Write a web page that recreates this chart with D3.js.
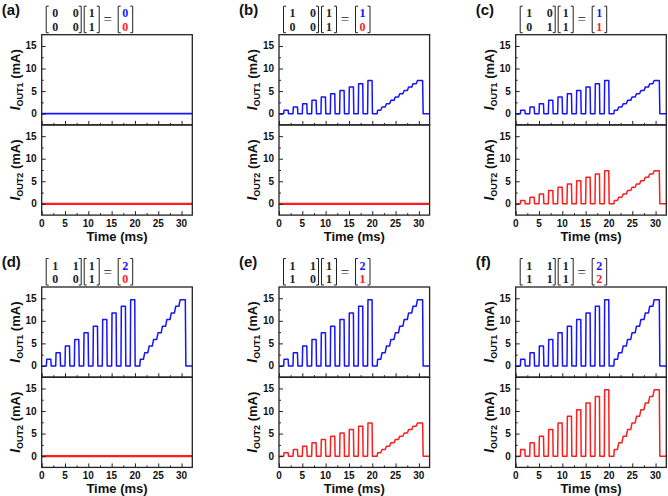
<!DOCTYPE html>
<html><head><meta charset="utf-8">
<script src="https://cdn.jsdelivr.net/npm/d3@7"></script>
<style>
html,body{margin:0;padding:0;background:#fff;}
svg{display:block;}
</style></head>
<body>
<svg id="chart" width="668" height="496"></svg>
<script>
// ---------- data ----------
const panelLabels = ["(a)", "(b)", "(c)", "(d)", "(e)", "(f)"];
const matrices = [
  [[0,0],[0,0]],
  [[1,0],[0,0]],
  [[1,0],[0,1]],
  [[1,1],[0,0]],
  [[1,1],[1,0]],
  [[1,1],[1,1]]
];
const inputVector = [1, 1];
const out1Values = [0, 1, 1, 2, 2, 2];
const out2Values = [0, 0, 1, 0, 1, 2];

const pulseStart = [1, 3, 5, 7, 9, 11, 13, 15, 17, 19];
const pulseEnd   = [2, 4, 6, 8, 10, 12, 14, 16, 18, 20];
const stepStart  = [21.1, 22.05, 23.0, 23.95, 24.9, 25.85, 26.8, 27.75, 28.7, 29.65];
const stepEnd = 30.8;
const levelsByOutput = {
  1: [0.73, 1.47, 2.2, 2.94, 3.67, 4.41, 5.14, 5.88, 6.61, 7.35],
  2: [1.47, 2.94, 4.41, 5.88, 7.35, 8.82, 10.29, 11.76, 13.23, 14.7]
};
const xTicks = [0, 5, 10, 15, 20, 25, 30];
const yTicks = [0, 5, 10, 15];
const xMinor = [2.5, 7.5, 12.5, 17.5, 22.5, 27.5];
const yMinor = [2.5, 7.5, 12.5];
const xDomain = [0, 32.3];
const yDomain = [-2.5, 17.5];

// ---------- layout ----------
const colX = [41.7, 279, 515.7];
const rowY = [34.7, 287];
const frameW = 150.6;
const subH = 90.2;
const BLUE = "#1414ff", RED = "#ff1c1c", AX = "#222";

const svg = d3.select("#chart");

function waveform(v) {
  const pts = [[xDomain[0], 0]];
  if (v === 0) { pts.push([xDomain[1], 0]); return pts; }
  const lv = levelsByOutput[v];
  pulseStart.forEach((s, k) => {
    pts.push([s, 0], [s + 0.08, lv[k]], [pulseEnd[k] - 0.04, lv[k]], [pulseEnd[k] + 0.04, 0]);
  });
  pts.push([stepStart[0] - 0.05, 0]);
  stepStart.forEach((s, k) => {
    pts.push([s + 0.05, lv[k]]);
    const e = k < stepStart.length - 1 ? s + 0.72 : stepEnd;
    pts.push([e, lv[k]]);
  });
  pts.push([stepEnd + 0.12, 0], [xDomain[1], 0]);
  return pts;
}

function drawSub(g, x0, y0, v, color, showX) {
  const x = d3.scaleLinear().domain(xDomain).range([x0, x0 + frameW]);
  const y = d3.scaleLinear().domain(yDomain).range([y0 + subH, y0]);
  const clipId = "c" + Math.round(x0) + "_" + Math.round(y0);
  g.append("clipPath").attr("id", clipId).append("rect")
    .attr("x", x0).attr("y", y0).attr("width", frameW).attr("height", subH);
  const line = d3.line().x(d => x(d[0])).y(d => y(d[1]));
  g.append("path").attr("d", line(waveform(v))).attr("clip-path", `url(#${clipId})`)
    .attr("fill", "none").attr("stroke", color)
    .attr("stroke-width", v === 0 ? (color === RED ? 2.4 : 1.6) : 1.5)
    .attr("stroke-linejoin", "round");
  const ya = d3.axisRight(y).tickValues(yTicks).tickSize(4).tickFormat("");
  const yg = g.append("g").attr("transform", `translate(${x0},0)`).call(ya);
  yg.select(".domain").remove();
  yg.selectAll("line").attr("stroke", AX).attr("stroke-width", 1);
  const ym = d3.axisRight(y).tickValues(yMinor).tickSize(2).tickFormat("");
  const ymg = g.append("g").attr("transform", `translate(${x0},0)`).call(ym);
  ymg.select(".domain").remove();
  ymg.selectAll("line").attr("stroke", AX).attr("stroke-width", 1);
  yTicks.forEach(t => {
    g.append("text").attr("x", x0 - 5).attr("y", y(t) + 3.5).attr("text-anchor", "end")
      .attr("font-family", "Liberation Sans, Arial, sans-serif").attr("font-weight", "bold")
      .attr("font-size", 10).attr("fill", "#111").text(t);
  });
  const xa = d3.axisTop(x).tickValues(xTicks).tickSize(4).tickFormat("");
  const xg = g.append("g").attr("transform", `translate(0,${y0 + subH})`).call(xa);
  xg.select(".domain").remove();
  xg.selectAll("line").attr("stroke", AX).attr("stroke-width", 1);
  const xm = d3.axisTop(x).tickValues(xMinor).tickSize(2).tickFormat("");
  const xmg = g.append("g").attr("transform", `translate(0,${y0 + subH})`).call(xm);
  xmg.select(".domain").remove();
  xmg.selectAll("line").attr("stroke", AX).attr("stroke-width", 1);
  if (showX) {
    xTicks.forEach(t => {
      g.append("text").attr("x", x(t)).attr("y", y0 + subH + 12).attr("text-anchor", "middle")
        .attr("font-family", "Liberation Sans, Arial, sans-serif").attr("font-weight", "bold")
        .attr("font-size", 10).attr("fill", "#111").text(t);
    });
  }
  g.append("rect").attr("x", x0).attr("y", y0).attr("width", frameW).attr("height", subH)
    .attr("fill", "none").attr("stroke", AX).attr("stroke-width", 1.3);
}

function yLabel(g, cx, cy, sub) {
  const t = g.append("text").attr("transform", `translate(${cx},${cy}) rotate(-90)`)
    .attr("text-anchor", "middle").attr("font-family", "Liberation Sans, Arial, sans-serif")
    .attr("font-weight", "bold").attr("font-size", 13).attr("fill", "#111");
  t.append("tspan").attr("font-style", "italic").attr("font-size", 14).text("I");
  t.append("tspan").attr("font-size", 9).attr("dy", 3).text(sub);
  t.append("tspan").attr("dy", -3).text(" (mA)");
}

function bracket(g, x, yTop, yBot, left) {
  const s = left ? 2.5 : -2.5;
  g.append("path").attr("d", `M${x + s},${yTop}H${x}V${yBot}H${x + s}`)
    .attr("fill", "none").attr("stroke", "#222").attr("stroke-width", 1);
}

function header(g, x0, top, m, o1, o2) {
  const f = "Liberation Serif, Times New Roman, serif";
  const b1 = top + 10.5, b2 = top + 24;
  const yT = top - 0.5, yB = top + 26;
  const txt = (x, y, s, col) => g.append("text").attr("x", x).attr("y", y)
    .attr("text-anchor", "middle").attr("font-family", f).attr("font-weight", "bold")
    .attr("font-size", 12).attr("fill", col || "#222").text(s);
  bracket(g, x0 + 4.5, yT, yB, true);
  txt(x0 + 13.5, b1, m[0][0]); txt(x0 + 34, b1, m[0][1]);
  txt(x0 + 13.5, b2, m[1][0]); txt(x0 + 34, b2, m[1][1]);
  bracket(g, x0 + 39.5, yT, yB, false);
  bracket(g, x0 + 42.5, yT, yB, true);
  txt(x0 + 50, b1, inputVector[0]); txt(x0 + 50, b2, inputVector[1]);
  bracket(g, x0 + 57.5, yT, yB, false);
  g.append("text").attr("x", x0 + 66).attr("y", top + 17.5).attr("text-anchor", "middle")
    .attr("font-family", f).attr("font-size", 15).attr("fill", "#222").text("=");
  bracket(g, x0 + 76.5, yT, yB, true);
  txt(x0 + 83.5, b1, o1, BLUE); txt(x0 + 83.5, b2, o2, RED);
  bracket(g, x0 + 91, yT, yB, false);
}

panelLabels.forEach((lab, i) => {
  const c = i % 3, r = Math.floor(i / 3);
  const x0 = colX[c], y0 = rowY[r];
  const g = svg.append("g");
  g.append("text").attr("x", x0 - 40).attr("y", y0 - 20)
    .attr("font-family", "Liberation Sans, Arial, sans-serif").attr("font-weight", "bold")
    .attr("font-size", 15).attr("fill", "#111").text(lab);
  header(g, x0, y0 - 28, matrices[i], out1Values[i], out2Values[i]);
  drawSub(g, x0, y0, out1Values[i], BLUE, false);
  drawSub(g, x0, y0 + subH, out2Values[i], RED, true);
  yLabel(g, x0 - 22, y0 + subH / 2, "OUT1");
  yLabel(g, x0 - 22, y0 + subH * 1.5, "OUT2");
  g.append("text").attr("x", x0 + frameW / 2).attr("y", y0 + 2 * subH + 25.5)
    .attr("text-anchor", "middle").attr("font-family", "Liberation Sans, Arial, sans-serif")
    .attr("font-weight", "bold").attr("font-size", 13).attr("fill", "#111").text("Time (ms)");
});
</script>
</body></html>
